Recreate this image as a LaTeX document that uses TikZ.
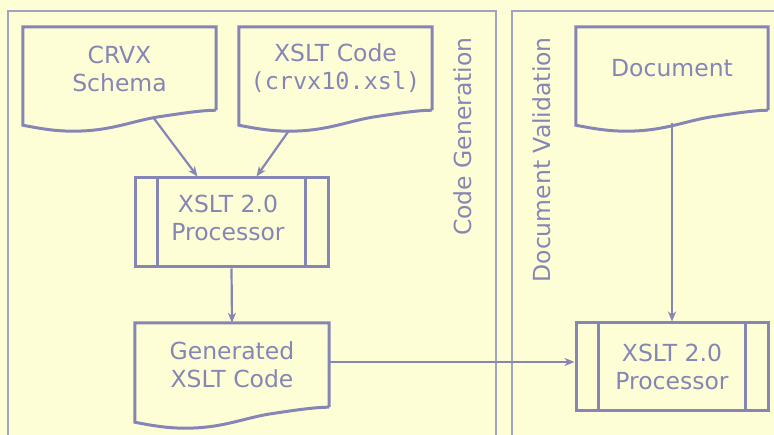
\documentclass[tikz,border=0pt]{standalone}
\usepackage{fontspec}
\setmainfont{DejaVu Sans}
\setmonofont{DejaVu Sans Mono}
\usetikzlibrary{arrows.meta,calc}
\definecolor{paper}{HTML}{FEFED6}
\definecolor{ink}{HTML}{8686B6}
\definecolor{laneline}{HTML}{A2A2C2}

% wavy-bottomed document outline drawn around a named node
\newcommand\docoutline[1]{%
  \draw[shapeline] (#1.south east) -- (#1.north east) -- (#1.north west)
    -- ($(#1.south west)+(0,15)$)
    .. controls ($(#1.south west)+(20,19)$) and ($(#1.south west)+(35,21)$) .. ($(#1.south west)+(50,21)$)
    .. controls ($(#1.south west)+(90,21)$) and ($(#1.south west)+(110,10)$) .. ($(#1.south west)+(140,6)$)
    .. controls ($(#1.south west)+(160,3)$) and ($(#1.south west)+(180,0)$) .. (#1.south east);}

% side bars of a predefined-process box
\newcommand\procbars[1]{%
  \draw[shapeline] ($(#1.north west)+(24,0)$) -- ($(#1.south west)+(24,0)$);
  \draw[shapeline] ($(#1.north east)+(-24,0)$) -- ($(#1.south east)+(-24,0)$);}

\begin{document}
\begin{tikzpicture}[x=1pt,y=-1pt,
  label text/.style={text=ink, align=center, inner sep=0pt,
    font=\fontsize{23.5}{28}\selectfont},
  shapeline/.style={draw=ink, line width=3pt, line join=miter},
  docbox/.style={label text, minimum width=193pt, minimum height=83pt},
  procbox/.style={label text, shapeline, minimum width=193pt, minimum height=89pt},
  lanebox/.style={draw=laneline, line width=1.8pt},
  flow/.style={draw=ink, line width=2.2pt,
    -{Stealth[length=10pt, width=8pt, inset=3pt]}},
]
\fill[paper] (0,0) rectangle (774,435);
\useasboundingbox (0,0) rectangle (774,435);

% swimlanes
\draw[lanebox] (8,11) rectangle (496,450);
\draw[lanebox] (512,11) rectangle (790,450);
\node[label text, rotate=90, anchor=east] (lanegen) at (463,37) {Code Generation};
\node[label text, rotate=90, anchor=east] (laneval) at (542,37) {Document Validation};

% code generation lane
\node[docbox] (schema) at (119.5,68.5) {CRVX\\Schema};
\docoutline{schema}
\node[docbox] (code) at (335.5,68.5) {XSLT Code\\\texttt{(crvx10.xsl)}};
\docoutline{code}
\node[procbox] (proc1) at (231.5,222.5) {};
\node[label text] (proc1-label) at (228,218) {XSLT 2.0\\Processor};
\procbars{proc1}
\node[docbox, minimum width=194pt, minimum height=84pt] (gen) at (232,365) {Generated\\XSLT Code};
\docoutline{gen}

% document validation lane
\node[docbox, minimum width=192pt] (doc) at (672,68.5) {Document};
\docoutline{doc}
\node[procbox, minimum width=192pt, minimum height=88pt] (proc2) at (672,367) {XSLT 2.0\\Processor};
\procbars{proc2}

% connection points on the wavy edges
\coordinate (schema-out) at ($(schema.south)+(33.5,7)$);
\coordinate (code-out) at ($(code.south)+(-47,21)$);
\coordinate (doc-out) at ($(doc.south)+(0,13)$);

% flows
\draw[flow] (schema-out) -- ($(proc1.north)+(-34,0)$);
\draw[flow] (code-out) -- ($(proc1.north)+(25,0)$);
\draw[flow] (proc1.south) -- (gen.north);
\draw[flow] ($(gen.east)+(0,-3)$) -- ($(proc2.west)+(0,-5)$);
\draw[flow] (doc-out) -- (proc2.north);
\end{tikzpicture}
\end{document}
